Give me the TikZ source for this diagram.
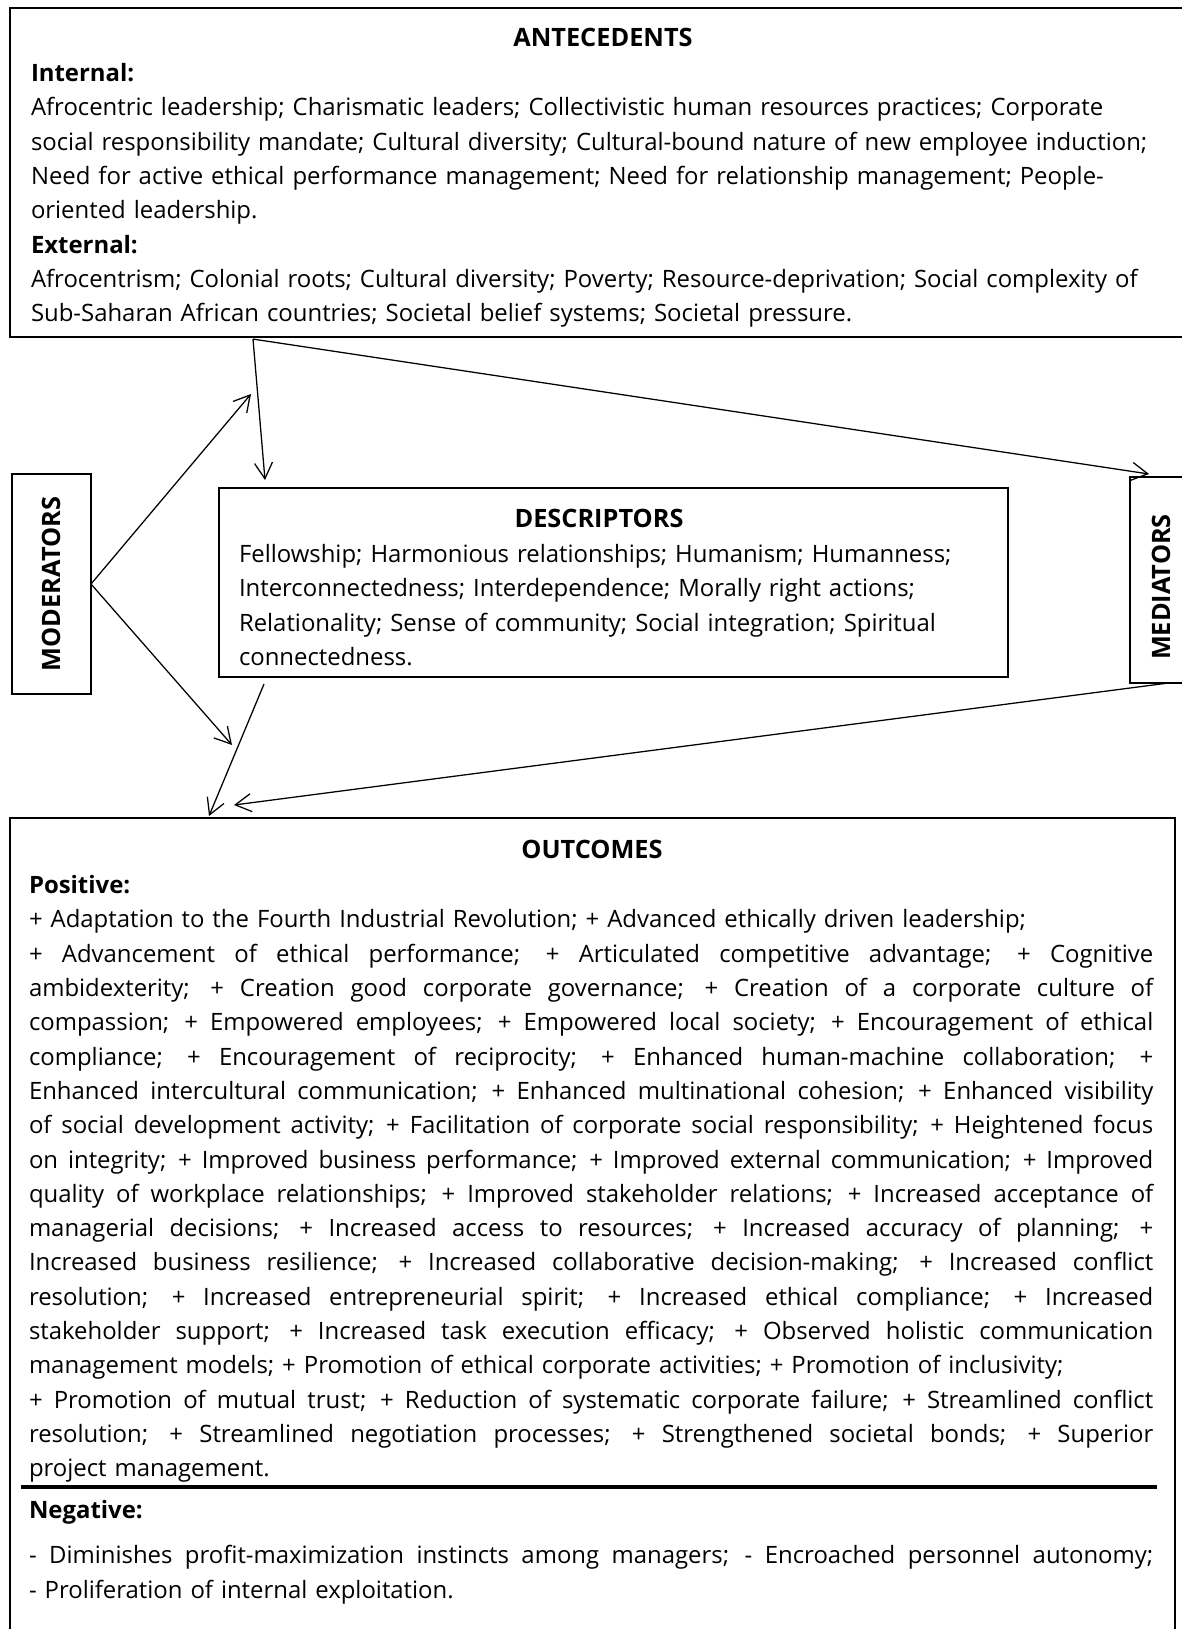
\documentclass[tikz,border=0pt]{standalone}
\usepackage{fontspec}
\setmainfont{Open Sans}
\usetikzlibrary{arrows.meta,positioning,calc}
\newcommand{\jline}[1]{\makebox[28.1cm][s]{\spaceskip=0.26em plus 1em minus 0.04em\relax #1}}

\begin{document}
\begin{tikzpicture}[x=0.025cm, y=-0.025cm,
  every node/.style={font=\fontsize{17}{24.4}\selectfont, inner sep=0pt, outer sep=0pt},
  frame/.style={draw, line width=1.6pt, anchor=north west},
  body/.style={anchor=north west, align=left},
  head/.style={font=\fontsize{18}{24.4}\selectfont\bfseries},
  arr/.style={-{Straight Barb[length=4mm,width=4.5mm]}, line width=0.9pt}]

  \useasboundingbox (0,0) rectangle (1182,1629);
  \clip (0,0) rectangle (1182,1629);

  % Frames
  \node[frame, minimum width=29.625cm, minimum height=8.225cm] (ante) at (10,8) {};
  \node[frame, minimum width=19.725cm, minimum height=4.725cm] (desc) at (219,488) {};
  \node[frame, minimum width=1.975cm, minimum height=5.5cm] (moder) at (12,474) {};
  \node[frame, minimum width=1.625cm, minimum height=5.15cm] (media) at (1130,477) {};
  \node[frame, minimum width=29.125cm, minimum height=20.55cm] (outc) at (10,818) {};

  % Antecedents
  \node[head, anchor=base] (anteTitle) at (603,46.5) {ANTECEDENTS};
  \node[body, text width=29cm] (anteText) at (31,63.4) {%
    \textbf{Internal:}\\
    Afrocentric leadership; Charismatic leaders; Collectivistic human resources practices; Corporate\\
    social responsibility mandate; Cultural diversity; Cultural-bound nature of new employee induction;\\
    Need for active ethical performance management; Need for relationship management; People-\\
    oriented leadership.\\
    \textbf{External:}\\
    Afrocentrism; Colonial roots; Cultural diversity; Poverty; Resource-deprivation; Social complexity of\\
    Sub-Saharan African countries; Societal belief systems; Societal pressure.};

  % Descriptors
  \node[head, anchor=base] (descTitle) at (599,527) {DESCRIPTORS};
  \node[body, text width=19cm] (descText) at (239,544.4) {%
    Fellowship; Harmonious relationships; Humanism; Humanness;\\
    Interconnectedness; Interdependence; Morally right actions;\\
    Relationality; Sense of community; Social integration; Spiritual\\
    connectedness.};

  % Side labels
  \node[head, rotate=90] (moderLabel) at (moder.center) {MODERATORS};
  \node[head, rotate=90] (mediaLabel) at (1161,587) {MEDIATORS};

  % Outcomes
  \node[head, anchor=base] (outcTitle) at (592,858) {OUTCOMES};
  \node[body, text width=28.1cm] (posText) at (29,875.4) {%
    \textbf{Positive:}\\
    + Adaptation to the Fourth Industrial Revolution; + Advanced ethically driven leadership;\\
    \jline{+ Advancement of ethical performance; + Articulated competitive advantage; + Cognitive}\\
    \jline{ambidexterity; + Creation good corporate governance; + Creation of a corporate culture of}\\
    \jline{compassion; + Empowered employees; + Empowered local society; + Encouragement of ethical}\\
    \jline{compliance; + Encouragement of reciprocity; + Enhanced human-machine collaboration; +}\\
    \jline{Enhanced intercultural communication; + Enhanced multinational cohesion; + Enhanced visibility}\\
    \jline{of social development activity; + Facilitation of corporate social responsibility; + Heightened focus}\\
    \jline{on integrity; + Improved business performance; + Improved external communication; + Improved}\\
    \jline{quality of workplace relationships; + Improved stakeholder relations; + Increased acceptance of}\\
    \jline{managerial decisions; + Increased access to resources; + Increased accuracy of planning; +}\\
    \jline{Increased business resilience; + Increased collaborative decision-making; + Increased conflict}\\
    \jline{resolution; + Increased entrepreneurial spirit; + Increased ethical compliance; + Increased}\\
    \jline{stakeholder support; + Increased task execution efficacy; + Observed holistic communication}\\
    management models; + Promotion of ethical corporate activities; + Promotion of inclusivity;\\
    \jline{+ Promotion of mutual trust; + Reduction of systematic corporate failure; + Streamlined conflict}\\
    \jline{resolution; + Streamlined negotiation processes; + Strengthened societal bonds; + Superior}\\
    project management.};
  \coordinate (ruleL) at (21,1487);
  \coordinate (ruleR) at (1157,1487);
  \draw[line width=2.6pt] (ruleL) -- (ruleR);
  \node[head, font=\fontsize{17}{24.4}\selectfont\bfseries, anchor=base west] (negTitle) at (29,1518) {Negative:};
  \node[body, text width=28.1cm] (negText) at (29,1545.4) {%
    \jline{- Diminishes profit-maximization instincts among managers; - Encroached personnel autonomy;}\\
    - Proliferation of internal exploitation.};

  % Connectors
  \coordinate (anteOut) at ($(ante.south west)+(243,2)$);
  \coordinate (modA) at (251,394);
  \coordinate (modB) at (232,745);
  \draw[arr] (anteOut) -- ($(desc.north west)+(46,-8)$);
  \draw[arr] (anteOut) -- ($(media.north west)+(19,-3)$);
  \draw[arr] (moder.east) -- (modA);
  \draw[arr] (moder.east) -- (modB);
  \draw[arr] ($(desc.south west)+(45,7)$) -- ($(outc.north west)+(199,-2)$);
  \draw[arr] ($(media.south west)+(38,0)$) -- ($(outc.north west)+(224,-13)$);
\end{tikzpicture}
\end{document}
